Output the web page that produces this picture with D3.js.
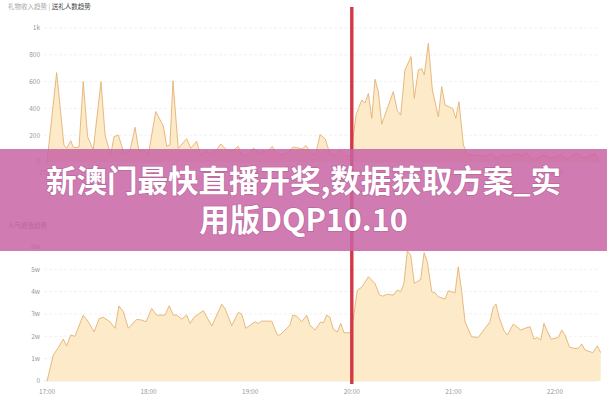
<!DOCTYPE html>
<html>
<head>
<meta charset="utf-8">
<script src="https://cdn.jsdelivr.net/npm/d3@7"></script>
<style>
  html, body { margin: 0; padding: 0; background: #fff; }
  svg { display: block; }
</style>
</head>
<body>
<svg id="chart" width="607" height="400"></svg>
<script>
// ---- data (minutes after 17:00) ----
const timeTicks = [0, 60, 120, 180, 240, 300];
const timeTickLabels = ["17:00", "18:00", "19:00", "20:00", "21:00", "22:00"];

const giftMinutes = [0,5.7,10,11.6,14,15.5,17.3,18.9,21.4,24,27.3,31.9,34.3,37.6,39.6,42.1,45.5,49,52,54.3,56.9,59.8,64.2,68.7,70.7,72.6,74.4,77.5,82.5,84.9,88.4,90.7,93.4,96.9,100.3,102.6,106,109.4,112.9,115.2,118.6,122,125,127.7,130,133,135.7,139.2,142.6,145.3,148.3,150.6,152.9,156.3,158.6,161.3,164.3,166.6,169.3,173,176.4,179.2,182.6,185.9,187.8,189.8,191.8,193.7,195.7,197.7,204.5,206.9,208.9,211.4,215,216.9,219.3,221.3,222.8,225.2,227.6,231.1,233.1,235.1,238,239.6,241.4,243.3,245.9,247.9,251.2,255.7,259.2,262.6,265.6,269.5,272.9,276.3,279.8,283.2,286.6,290,293.5,296.9,300.3,303.8,307.2,310.6,314.1,316.3,319.8,323.2,326.6];
const giftValues = [0,667,127,102,159,110,108,112,600,189,90,600,201,52,189,201,65,85,259,80,90,52,376,269,119,127,607,102,174,102,155,48,80,62,92,135,92,80,117,48,55,105,67,80,72,117,62,55,72,112,105,97,122,62,55,205,172,80,42,92,48,42,355,463,440,512,326,617,525,283,525,383,350,687,786,475,687,697,649,886,537,338,562,425,408,400,326,450,127,65,48,50,42,62,30,55,42,62,48,67,22,30,55,28,42,55,22,55,62,30,42,62,5];

const peakMinutes = [0,3.7,6.7,9.6,11.6,14,16.5,21.4,25,27.8,30.9,33.3,37.2,40.2,42.5,45.1,48,53,55.9,58.5,61.8,64.8,69.7,72.2,74.6,76.6,79.6,82.5,84.5,86.8,92.3,97.3,103.2,105.1,109.1,113,115,117.4,122.8,124.8,126.8,132.7,136,137.6,143.5,145.1,147.5,150.4,153.4,155.3,158.3,161.6,163.2,165.2,167.1,169.1,171.5,173.5,175.4,179,180.9,183.3,185.9,189.8,193.7,196.3,198.3,200.6,204.5,206.9,208.9,210.8,212.8,214.8,216.9,220.7,222.7,224.6,227.2,229.2,231.1,235.1,237,239,241,242.9,244.9,246.9,250.8,254.7,258.7,261.6,263.6,265.2,266.9,269.9,271.9,275.4,279.8,282.3,285.3,287.6,289.6,291.6,293.5,295.1,297.7,302,304,305.9,308.5,311.2,313.8,315.8,317.7,322.3,325,327];
const peakValues = [0,11600,15000,18800,15700,20600,20000,29500,25800,22000,28000,28500,26500,23600,33600,31000,23600,27600,27300,26500,32500,29500,29500,33700,29500,29500,27700,29500,25800,28500,31500,24600,34400,32500,24800,30700,30000,23600,26500,25800,26800,26800,20600,20600,25000,29500,29000,26500,29500,25000,22800,26500,26000,29500,28500,23100,22000,25800,21600,21600,28000,40700,42000,46700,43700,38500,38000,38800,38500,40700,40000,43700,58300,56400,43700,45500,57400,53400,40000,39500,37700,36700,40400,40000,39500,51100,40000,26500,19800,19500,23600,26500,33200,34400,28800,22500,20600,25500,22800,23600,24300,18700,19500,18300,25800,22800,18700,19500,22800,20600,15300,14600,14600,16600,13900,12700,15700,12700];

const giftYTicks = [0, 200, 400, 600, 800, 1000];
const giftYLabels = ["0", "200", "400", "600", "800", "1k"];
const peakYTicks = [0, 10000, 20000, 30000, 40000, 50000, 60000];
const peakYLabels = ["0", "1w", "2w", "3w", "4w", "5w", "6w"];

const markerMinute = 180;
const titleTopA = "礼物收入趋势";
const titleTopB = "送礼人数趋势";
const titleBottom = "人气峰值趋势";
const bannerLines = ["新澳门最快直播开奖,数据获取方案_实", "用版DQP10.10"];

// ---- drawing ----
const svg = d3.select("#chart");
const FONT = "'Noto Sans CJK SC', 'Noto Sans', sans-serif";
const x = d3.scaleLinear().domain([0, 327]).range([47, 600.7]);
const gridRight = 597;

function panel(minutes, values, yDomain, yRange, ticks, labels, xLabelY) {
  const y = d3.scaleLinear().domain(yDomain).range(yRange);
  const g = svg.append("g");
  g.selectAll("line.grid").data(ticks).enter().append("line")
    .attr("x1", 44).attr("x2", gridRight)
    .attr("y1", d => y(d)).attr("y2", d => y(d))
    .attr("stroke", d => d === 0 ? "#e4e4e4" : "#ededed")
    .attr("stroke-width", 0.8)
    .attr("stroke-dasharray", d => d === 0 ? null : "3,2");
  g.selectAll("text.ylab").data(ticks).enter().append("text")
    .attr("x", 40).attr("y", d => y(d) + 2.3)
    .attr("text-anchor", "end")
    .attr("font-family", FONT).attr("font-size", 6.5)
    .attr("fill", "#999")
    .text((d, i) => labels[i]);
  const pts = minutes.map((m, i) => [m, values[i]]);
  const area = d3.area().x(d => x(d[0])).y0(y(0)).y1(d => y(d[1]));
  const line = d3.line().x(d => x(d[0])).y(d => y(d[1]));
  g.append("path").datum(pts).attr("d", area).attr("fill", "#fdeac8");
  g.append("path").datum(pts).attr("d", line)
    .attr("fill", "none").attr("stroke", "#e3b274").attr("stroke-width", 0.9);
  g.selectAll("text.xlab").data(timeTicks).enter().append("text")
    .attr("x", d => x(d)).attr("y", xLabelY)
    .attr("text-anchor", "middle")
    .attr("font-family", FONT).attr("font-size", 6.5)
    .attr("fill", "#999")
    .text((d, i) => timeTickLabels[i]);
}

panel(giftMinutes, giftValues, [0, 1000], [162, 28], giftYTicks, giftYLabels, 175);
panel(peakMinutes, peakValues, [0, 60000], [381, 247], peakYTicks, peakYLabels, 394);

// titles
const t1 = svg.append("text").attr("x", 8).attr("y", 8.5)
  .attr("font-family", FONT).attr("font-size", 6.5);
t1.append("tspan").attr("fill", "#aaa").text(titleTopA + " | ");
t1.append("tspan").attr("fill", "#444").text(titleTopB);
svg.append("text").attr("x", 8).attr("y", 227.5)
  .attr("font-family", FONT).attr("font-size", 6.5).attr("fill", "#777")
  .text(titleBottom);

// marker line
svg.append("line")
  .attr("x1", x(markerMinute)).attr("x2", x(markerMinute))
  .attr("y1", 7).attr("y2", 384)
  .attr("stroke", "#d13a45").attr("stroke-width", 3.4);

// banner
svg.append("rect").attr("x", 0).attr("y", 149).attr("width", 607).attr("height", 102)
  .attr("fill", "rgba(200,100,165,0.85)");
svg.selectAll("text.banner").data(bannerLines).enter().append("text")
  .attr("x", 303.5).attr("y", (d, i) => 192 + i * 39)
  .attr("text-anchor", "middle")
  .attr("font-family", "'Noto Sans CJK SC', sans-serif")
  .attr("font-weight", "bold").attr("font-size", 30.5)
  .attr("fill", "#fff")
  .style("paint-order", "stroke")
  .attr("stroke", "rgba(120,40,90,0.25)").attr("stroke-width", 1.5)
  .text(d => d);
</script>
</body>
</html>
